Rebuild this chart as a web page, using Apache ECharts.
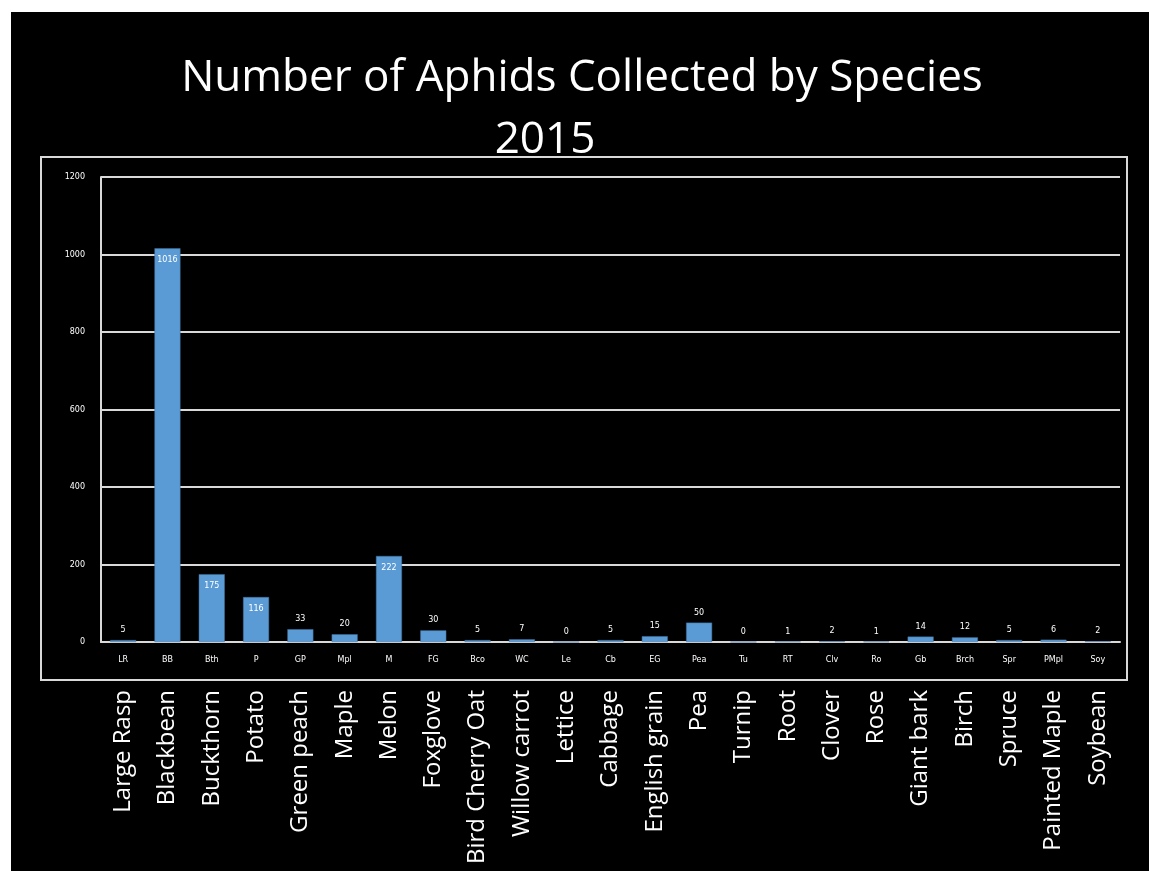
<!DOCTYPE html>
<html>
<head>
<meta charset="utf-8">
<script src="https://cdn.jsdelivr.net/npm/echarts@6/dist/echarts.min.js"></script>
<style>
html, body { margin: 0; padding: 0; background: #fff; }
#chart { width: 1149px; height: 871px; }
</style>
</head>
<body>
<div id="chart"></div>
<script>
// short codes shown under the axis
var codes = ['LR', 'BB', 'Bth', 'P', 'GP', 'Mpl', 'M', 'FG', 'Bco', 'WC', 'Le', 'Cb', 'EG', 'Pea',
    'Tu', 'RT', 'Clv', 'Ro', 'Gb', 'Brch', 'Spr', 'PMpl', 'Soy']
// full names below the box
var names = ['Large Rasp', 'Blackbean', 'Buckthorn', 'Potato', 'Green peach', 'Maple', 'Melon', 'Foxglove',
    'Bird Cherry Oat', 'Willow carrot', 'Lettice', 'Cabbage', 'English grain', 'Pea', 'Turnip', 'Root',
    'Clover', 'Rose', 'Giant bark', 'Birch', 'Spruce', 'Painted Maple', 'Soybean']
var counts = [5, 1016, 175, 116, 33, 20, 222, 30, 5, 7, 0, 5, 15, 50, 0, 1, 2, 1, 14, 12, 5, 6, 2]
var yTicks = [0, 200, 400, 600, 800, 1000, 1200]

var lineColor = '#d9d9d9'
var barData = counts.map(function(v) {
    return {
        value: v,
        label: v >= 100 ? { position: 'insideTop', distance: 8 } : { position: 'top', distance: 6 }
    }
})

var myChart = echarts.init(document.getElementById('chart'))
var option = {
    backgroundColor: '#000',
    animation: false,
    graphic: [
        { type: 'rect', shape: { x: 0, y: 0, width: 1149, height: 12 }, style: { fill: '#fff' } },
        { type: 'rect', shape: { x: 0, y: 0, width: 11, height: 871 }, style: { fill: '#fff' } },
        {
            type: 'rect',
            shape: { x: 41, y: 157, width: 1086, height: 523 },
            style: { fill: 'transparent', stroke: lineColor, lineWidth: 2 }
        },
        {
            type: 'text', x: 582, y: 78,
            style: {
                text: 'Number of Aphids Collected by Species', fill: '#fff',
                font: '44px "Open Sans"', textAlign: 'center', textVerticalAlign: 'middle'
            }
        },
        {
            type: 'text', x: 545, y: 140,
            style: {
                text: '2015', fill: '#fff',
                font: '44px "Open Sans"', textAlign: 'center', textVerticalAlign: 'middle'
            }
        }
    ],
    grid: {
        left: 101,
        top: 177,
        right: 29,
        bottom: 229
    },
    xAxis: [
        {
            type: 'category',
            data: codes,
            axisLine: { show: true, lineStyle: { color: lineColor, width: 2 } },
            axisTick: { show: false },
            axisLabel: { color: '#fff', fontSize: 8, margin: 14, fontFamily: 'DejaVu Sans', interval: 0 }
        },
        {
            type: 'category',
            data: names,
            position: 'bottom',
            offset: 44,
            axisLine: { show: false },
            axisTick: { show: false },
            axisLabel: { color: '#fff', fontSize: 24, rotate: 90, margin: 4, fontFamily: 'Open Sans', interval: 0 }
        }
    ],
    yAxis: {
        type: 'value',
        min: yTicks[0],
        max: yTicks[yTicks.length - 1],
        interval: 200,
        axisLine: { show: true, lineStyle: { color: lineColor, width: 2 } },
        axisTick: { show: false },
        axisLabel: {
            color: '#fff', fontSize: 8, margin: 16, fontFamily: 'DejaVu Sans',
            formatter: function(v) { return String(v) }
        },
        splitLine: { show: true, lineStyle: { color: lineColor, width: 2 } }
    },
    series: [
        {
            type: 'bar',
            xAxisIndex: 0,
            barWidth: 26,
            data: barData,
            itemStyle: { color: '#5b9bd5', borderColor: '#41719c', borderWidth: 0.5 },
            label: { show: true, color: '#fff', fontSize: 8, fontFamily: 'DejaVu Sans' }
        }
    ]
}
myChart.setOption(option)

window.addEventListener('resize', function() {
    myChart.resize()
})
</script>
</body>
</html>
